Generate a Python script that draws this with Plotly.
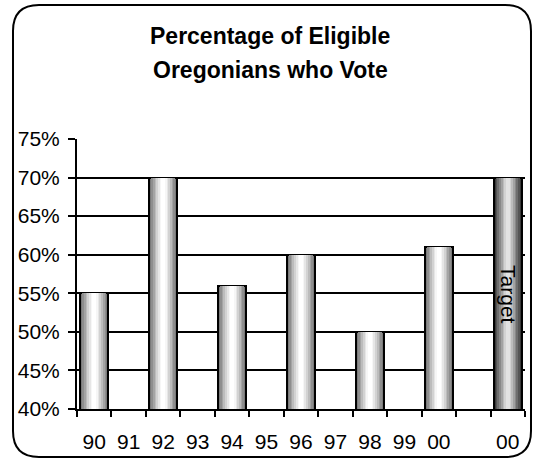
import plotly.graph_objects as go

# ---- data ----
year_labels = ["90", "91", "92", "93", "94", "95", "96", "97", "98", "99", "00", "", "00"]
vote_pct = [55, None, 70, None, 56, None, 60, None, 50, None, 61, None, None]
target_pct = [None, None, None, None, None, None, None, None, None, None, None, None, 70]
target_label = "Target"
title_lines = ["Percentage of Eligible", "Oregonians who Vote"]
y_ticks = [40, 45, 50, 55, 60, 65, 70, 75]
y_tick_text = [f"{v}%" for v in y_ticks]

# ---- style ----
FONT = "Arial, Liberation Sans, sans-serif"
W, H = 536, 460
ML, MR, MT, MB = 77, 11, 139, 51
PW, PH = W - ML - MR, H - MT - MB

widths = [0.8, 0.7, 0.6, 0.5, 0.4, 0.3, 0.2, 0.11]
vote_shades = ["#7a7a7a", "#8e8e8e", "#a4a4a4", "#bcbcbc", "#d2d2d2", "#e6e6e6", "#f6f6f6", "#ffffff"]
target_shades = ["#3a3a3a", "#555555", "#6e6e6e", "#888888", "#a2a2a2", "#bcbcbc", "#d2d2d2", "#e2e2e2"]

xs = list(range(len(year_labels)))

fig = go.Figure()
for series, shades in ((vote_pct, vote_shades), (target_pct, target_shades)):
    for i, (w, c) in enumerate(zip(widths, shades)):
        fig.add_trace(go.Bar(
            x=xs, y=series, width=w,
            marker=dict(color=c,
                        line=dict(color="black", width=2 if i == 0 else 0)),
            hoverinfo="skip", showlegend=False,
        ))

# "Target" label inside target bar
tgt_idx = next(i for i, v in enumerate(target_pct) if v is not None)
fig.add_annotation(x=xs[tgt_idx], y=54.8, xref="x", yref="y", text=target_label,
                   textangle=90, showarrow=False,
                   font=dict(family=FONT, size=21, color="black"))

# Title (two lines, wide spacing)
def px_to_paper(px, py):
    return (px - ML) / PW, (H - MB - py) / PH

for line, py in zip(title_lines, (35.5, 69.5)):
    xp, yp = px_to_paper(270, py)
    fig.add_annotation(x=xp, y=yp, xref="paper", yref="paper", text=f"<b>{line}</b>",
                       showarrow=False, xanchor="center", yanchor="middle",
                       font=dict(family=FONT, size=23, color="black"))

# Rounded border
L, R, T, B, r = 13, 531, 5, 457, 26
def P(px, py):
    xp, yp = px_to_paper(px, py)
    return f"{xp:.5f},{yp:.5f}"
path = (f"M {P(L + r, T)} L {P(R - r, T)} Q {P(R, T)} {P(R, T + r)} "
        f"L {P(R, B - r)} Q {P(R, B)} {P(R - r, B)} "
        f"L {P(L + r, B)} Q {P(L, B)} {P(L, B - r)} "
        f"L {P(L, T + r)} Q {P(L, T)} {P(L + r, T)} Z")
fig.add_shape(type="path", path=path, xref="paper", yref="paper",
              line=dict(color="black", width=2), fillcolor="rgba(0,0,0,0)")

fig.update_layout(
    width=W, height=H,
    margin=dict(l=ML, r=MR, t=MT, b=MB, pad=0),
    barmode="overlay",
    bargap=0,
    paper_bgcolor="white", plot_bgcolor="white",
    font=dict(family=FONT, size=21, color="black"),
    xaxis=dict(
        range=[-0.5, len(xs) - 0.5], automargin=False,
        tickmode="array", tickvals=xs, ticktext=year_labels,
        ticks="", showgrid=False, zeroline=False,
        showline=True, linecolor="black", linewidth=2,
        tickfont=dict(family=FONT, size=21, color="black"),
        ticklabelstandoff=13,
        minor=dict(tickmode="array", tickvals=[i - 0.5 for i in range(len(xs) + 1)],
                   ticks="outside", ticklen=6, tickwidth=2, tickcolor="black",
                   showgrid=False),
    ),
    yaxis=dict(
        range=[40, 75], automargin=False,
        tickmode="array", tickvals=y_ticks, ticktext=y_tick_text,
        ticks="outside", ticklen=7, tickwidth=2, tickcolor="black",
        showgrid=True, gridcolor="black", gridwidth=2, zeroline=False,
        showline=True, linecolor="black", linewidth=2,
        tickfont=dict(family=FONT, size=21, color="black"),
        ticklabelstandoff=4,
    ),
)

fig.write_html("out.html")
